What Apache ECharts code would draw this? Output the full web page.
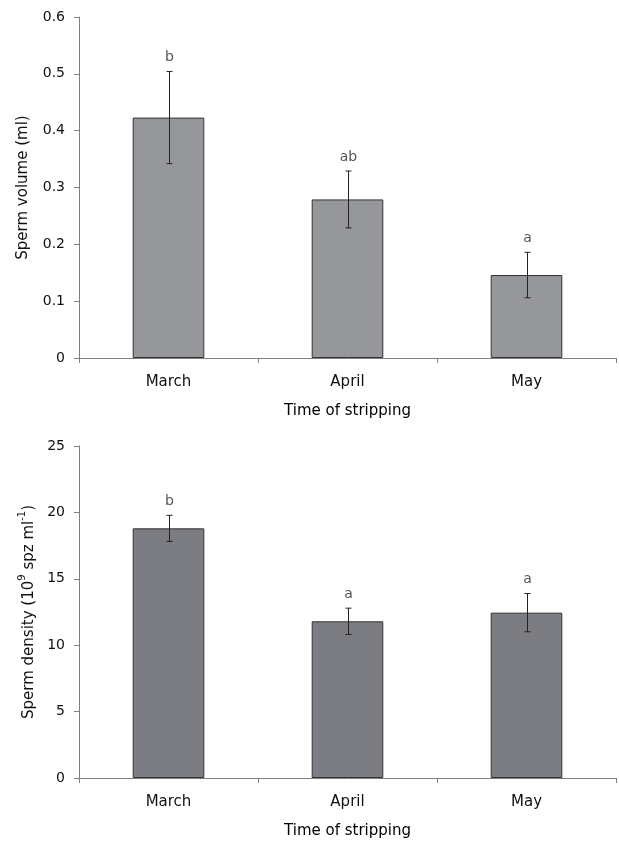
<!DOCTYPE html>
<html>
<head>
<meta charset="utf-8">
<script src="https://cdn.jsdelivr.net/npm/echarts@6/dist/echarts.min.js"></script>
<style>
html,body{margin:0;padding:0;background:#fff;}
#chart{width:619px;height:841px;}
</style>
</head>
<body>
<div id="chart"></div>
<script>
const categories = ['March', 'April', 'May'];
const volumeMean = [0.423, 0.279, 0.146];
const volumeErr = [0.081, 0.050, 0.040];
const volumeLetters = ['b', 'ab', 'a'];
const densityMean = [18.8, 11.8, 12.45];
const densityErr = [0.98, 0.99, 1.44];
const densityLetters = ['b', 'a', 'a'];
const volumeTicks = [0, 0.1, 0.2, 0.3, 0.4, 0.5, 0.6];
const densityTicks = [0, 5, 10, 15, 20, 25];

const FONT = 'DejaVu Sans';

function errData(mean, err, letters) {
  return mean.map((m, i) => [i, m - err[i], m + err[i], letters[i]]);
}

function renderErr(params, api) {
  const i = api.value(0);
  const lo = api.coord([i, api.value(1)]);
  const hi = api.coord([i, api.value(2)]);
  const x = Math.round(hi[0]) + 0.5;
  const cap = 3;
  const st = { stroke: '#222', lineWidth: 1 };
  return {
    type: 'group',
    children: [
      { type: 'line', shape: { x1: x, y1: hi[1], x2: x, y2: lo[1] }, style: st },
      { type: 'line', shape: { x1: x - cap, y1: hi[1], x2: x + cap, y2: hi[1] }, style: st },
      { type: 'line', shape: { x1: x - cap, y1: lo[1], x2: x + cap, y2: lo[1] }, style: st },
      { type: 'text', x: x, y: hi[1] - 14,
        style: { text: api.value(3), fill: '#555', font: '14px "' + FONT + '"', align: 'center', verticalAlign: 'middle' } }
    ]
  };
}

const axisLineStyle = { color: '#808080', width: 1 };
function xAxisCfg(gridIndex) {
  return {
    type: 'category', gridIndex, data: categories,
    axisLine: { show: true, lineStyle: axisLineStyle },
    axisTick: { show: true, alignWithLabel: false, length: 5, lineStyle: axisLineStyle },
    axisLabel: { margin: 17, color: '#111', fontSize: 15, fontFamily: FONT },
    name: 'Time of stripping', nameLocation: 'middle', nameGap: 46,
    nameTextStyle: { color: '#000', fontSize: 15, fontFamily: FONT }
  };
}
function yAxisCfg(gridIndex, ticks, name, rich, fmt, gap) {
  return {
    type: 'value', gridIndex,
    min: ticks[0], max: ticks[ticks.length - 1], interval: ticks[1] - ticks[0],
    axisLine: { show: true, lineStyle: axisLineStyle },
    axisTick: { show: true, length: 5, lineStyle: axisLineStyle },
    splitLine: { show: false },
    axisLabel: { margin: 14, color: '#111', fontSize: 14, fontFamily: FONT, formatter: fmt },
    name, nameLocation: 'middle', nameRotate: 90, nameGap: gap,
    nameTextStyle: { color: '#111', fontSize: 15, fontFamily: FONT, lineHeight: 18, rich }
  };
}

const chart = echarts.init(document.getElementById('chart'), null, { renderer: 'canvas' });
chart.setOption({
  backgroundColor: '#fff',
  animation: false,
  grid: [
    { left: 79, right: 3, top: 17, height: 341 },
    { left: 79, right: 3, top: 446, height: 332 }
  ],
  xAxis: [xAxisCfg(0), xAxisCfg(1)],
  yAxis: [
    yAxisCfg(0, volumeTicks, 'Sperm volume (ml)', {}, v => String(v), 44),
    yAxisCfg(1, densityTicks, '{t|Sperm density (10}{sup|9}{t| spz ml}{sup|-1}{t|)}',
      {
        t: { fontSize: 15, fontFamily: FONT, color: '#111', verticalAlign: 'bottom', lineHeight: 18 },
        sup: { fontSize: 10, fontFamily: FONT, color: '#111', verticalAlign: 'bottom', lineHeight: 10, padding: [0, 0, 9, 0] }
      },
      v => String(v), 42)
  ],
  series: [
    { type: 'bar', xAxisIndex: 0, yAxisIndex: 0, data: volumeMean, barWidth: '40%',
      itemStyle: { color: '#96979b', borderColor: '#333', borderWidth: 1 } },
    { type: 'custom', xAxisIndex: 0, yAxisIndex: 0, data: errData(volumeMean, volumeErr, volumeLetters),
      renderItem: renderErr, z: 5 },
    { type: 'bar', xAxisIndex: 1, yAxisIndex: 1, data: densityMean, barWidth: '40%',
      itemStyle: { color: '#7c7d82', borderColor: '#333', borderWidth: 1 } },
    { type: 'custom', xAxisIndex: 1, yAxisIndex: 1, data: errData(densityMean, densityErr, densityLetters),
      renderItem: renderErr, z: 5 }
  ]
});
</script>
</body>
</html>
